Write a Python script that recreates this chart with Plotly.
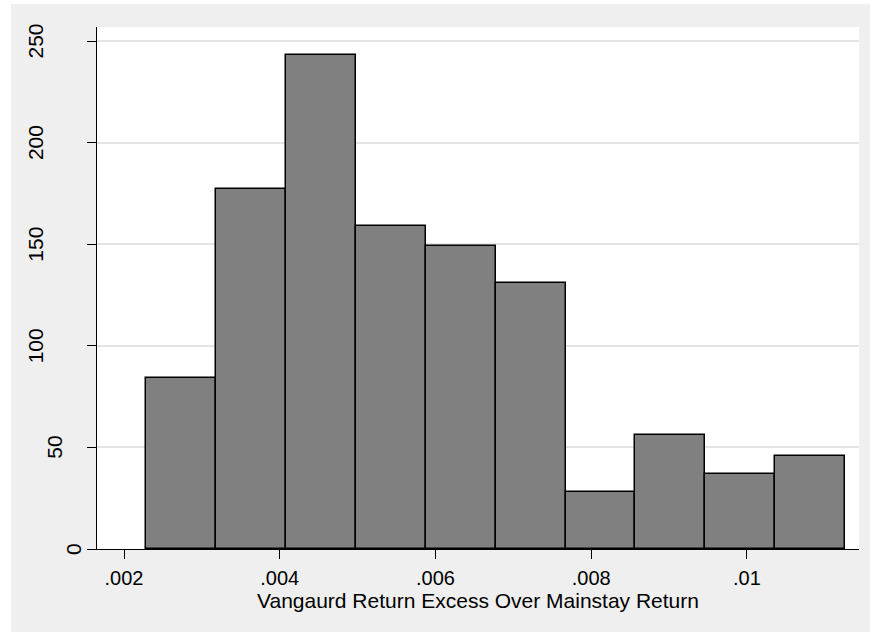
import plotly.graph_objects as go

# ---- data ----
bin_edges = [0.002283, 0.003181, 0.004079, 0.004977, 0.005875, 0.006773,
             0.007671, 0.008569, 0.009467, 0.010365, 0.011263]
counts = [84, 177, 243, 159, 149, 131, 28, 56, 37, 46]

x_tickvals = [0.002, 0.004, 0.006, 0.008, 0.010]
x_ticktext = [".002", ".004", ".006", ".008", ".01"]
y_tickvals = [0, 50, 100, 150, 200, 250]
y_ticktext = ["0", "50", "100", "150", "200", "250"]
x_title = "Vangaurd Return Excess Over Mainstay Return"

# ---- style ----
FONT = "Liberation Sans, Arial, Helvetica, sans-serif"
BG = "#EFEFEF"
W, H = 870, 632
ML, MR, MT, MB = 97, 11, 27, 83
PW, PH = W - ML - MR, H - MT - MB

centers = [(a + b) / 2 for a, b in zip(bin_edges[:-1], bin_edges[1:])]
widths = [b - a for a, b in zip(bin_edges[:-1], bin_edges[1:])]

fig = go.Figure(
    go.Bar(
        x=centers,
        y=counts,
        width=widths,
        marker=dict(color="#808080", line=dict(color="#000000", width=1.5)),
        hoverinfo="x+y",
    )
)

fig.update_layout(
    width=W,
    height=H,
    margin=dict(l=ML, r=MR, t=MT, b=MB, pad=0),
    paper_bgcolor=BG,
    plot_bgcolor="#FFFFFF",
    showlegend=False,
    font=dict(family=FONT, color="#000000"),
    bargap=0,
)

fig.update_xaxes(
    range=[0.001653, 0.011440],
    tickvals=x_tickvals,
    ticktext=x_ticktext,
    tickfont=dict(size=20, family=FONT, color="#000000"),
    ticks="outside",
    ticklen=9,
    tickwidth=1.3,
    tickcolor="#000000",
    ticklabelstandoff=2,
    showline=True,
    linecolor="#000000",
    linewidth=1.3,
    showgrid=False,
    zeroline=False,
    automargin=False,
    title=dict(text=x_title, font=dict(size=21, family=FONT, color="#000000"), standoff=3),
)

fig.update_yaxes(
    range=[0, 256.9],
    tickvals=y_tickvals,
    showticklabels=False,
    ticks="outside",
    ticklen=9,
    tickwidth=1.3,
    tickcolor="#000000",
    showline=True,
    linecolor="#000000",
    linewidth=1.3,
    showgrid=True,
    gridcolor="#E4E4E4",
    gridwidth=1.5,
    zeroline=False,
    automargin=False,
)

# rotated y tick labels, placed like the reference (shorter labels sit closer to the axis)
for v, t in zip(y_tickvals, y_ticktext):
    fig.add_annotation(
        x=0, xref="paper", y=v, yref="y",
        text=t, showarrow=False, textangle=-90,
        xanchor="center", yanchor="middle",
        xshift=-24 - 18.75 * (len(t) - 1),
        font=dict(size=21, family=FONT, color="#000000"),
    )

# thin white border at the top and left edges of the image
def px_x(p):
    return (p - ML) / PW

def px_y(p):
    return (H - MB - p) / PH

fig.add_shape(type="rect", xref="paper", yref="paper",
              x0=px_x(-2), x1=px_x(W + 2), y0=px_y(4), y1=px_y(-2),
              fillcolor="#FFFFFF", line=dict(width=0), layer="below")
fig.add_shape(type="rect", xref="paper", yref="paper",
              x0=px_x(-2), x1=px_x(11), y0=px_y(H + 2), y1=px_y(-2),
              fillcolor="#FFFFFF", line=dict(width=0), layer="below")

fig.write_html(
    "out.html",
    config={"displayModeBar": False},
    post_script=(
        "document.documentElement.style.overflow='hidden';"
        "document.documentElement.style.background='" + BG + "';"
        "document.body.style.margin='0';document.body.style.padding='0';"
        "document.body.style.overflow='hidden';"
        "document.body.style.background='" + BG + "';"
    ),
)
